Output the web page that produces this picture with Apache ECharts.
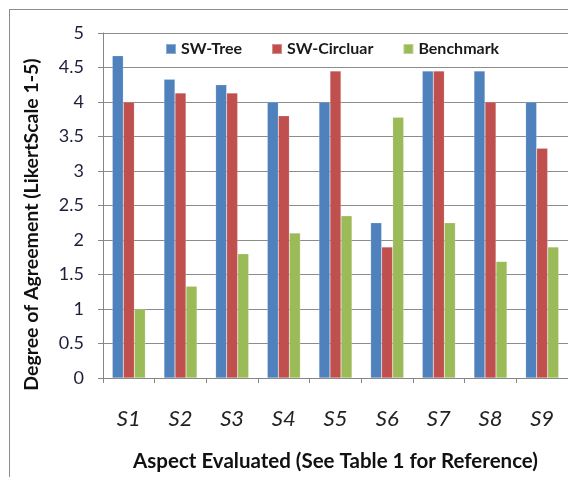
<!DOCTYPE html>
<html>
<head>
<meta charset="utf-8">
<script src="https://cdn.jsdelivr.net/npm/echarts@6/dist/echarts.min.js"></script>
<style>
  html, body { margin: 0; padding: 0; background: #fff; overflow: hidden; }
  #wrap { position: relative; width: 568px; height: 477px; overflow: hidden; }
  #frame { position: absolute; left: 9px; top: 9px; width: 600px; height: 500px; border-left: 1px solid #8c8c8c; border-top: 1px solid #8c8c8c; }
  #chart { position: absolute; left: 0; top: 0; width: 568px; height: 477px; }
</style>
</head>
<body>
<div id="wrap">
  <div id="frame"></div>
  <div id="chart"></div>
</div>
<script>
var categories = ["S1", "S2", "S3", "S4", "S5", "S6", "S7", "S8", "S9"];
var swTree = [4.67, 4.33, 4.25, 4.0, 4.0, 2.25, 4.45, 4.45, 4.0];
var swCircular = [4.0, 4.13, 4.13, 3.8, 4.45, 1.9, 4.45, 4.0, 3.33];
var benchmark = [1.0, 1.33, 1.8, 2.1, 2.35, 3.78, 2.25, 1.69, 1.9];
var yTicks = [0, 0.5, 1, 1.5, 2, 2.5, 3, 3.5, 4, 4.5, 5];

var font = "Lato, 'Open Sans', sans-serif";
var myChart = echarts.init(document.getElementById("chart"));

function bar(name, data, color) {
  return {
    name: name,
    type: "bar",
    data: data,
    barGap: "0%",
    barCategoryGap: "36%",
    itemStyle: { color: color, borderColor: "rgba(255,255,255,0.35)", borderWidth: 0.5 }
  };
}

var option = {
  animation: false,
  textStyle: { fontFamily: font },
  legend: {
    left: 160,
    top: 36,
    itemWidth: 10,
    itemHeight: 10,
    itemGap: 29,
    icon: "rect",
    textStyle: { fontFamily: font, fontSize: 16, fontWeight: "bold", color: "#1a1a1a" }
  },
  grid: { left: 103, right: 0, top: 33, bottom: 95 },
  xAxis: {
    type: "category",
    data: categories,
    name: "Aspect Evaluated (See Table 1 for Reference)",
    nameLocation: "middle",
    nameGap: 73,
    nameTextStyle: { fontFamily: font, fontSize: 20.5, fontWeight: "bold", color: "#111" },
    axisLine: { lineStyle: { color: "#868686" } },
    axisTick: { show: true, length: 5, lineStyle: { color: "#868686" } },
    axisLabel: { fontFamily: font, fontSize: 22, fontStyle: "italic", color: "#222", margin: 30 }
  },
  yAxis: {
    type: "value",
    min: 0,
    max: yTicks[yTicks.length - 1],
    interval: yTicks[1] - yTicks[0],
    name: "Degree of Agreement (LikertScale 1-5)",
    nameLocation: "middle",
    nameGap: 61,
    nameTextStyle: { fontFamily: font, fontSize: 19.5, fontWeight: "bold", color: "#111", padding: [0, 38, 0, 0] },
    axisLine: { show: true, lineStyle: { color: "#868686" } },
    axisTick: { show: true, length: 5, lineStyle: { color: "#868686" } },
    splitLine: { lineStyle: { color: "#8c8c8c", width: 1 } },
    axisLabel: { fontFamily: font, fontSize: 18, color: "#1e1e3c", margin: 19 }
  },
  series: [
    bar("SW-Tree", swTree, "#4F81BD"),
    bar("SW-Circluar", swCircular, "#C0504D"),
    bar("Benchmark", benchmark, "#9BBB59")
  ]
};

myChart.setOption(option);
</script>
</body>
</html>
